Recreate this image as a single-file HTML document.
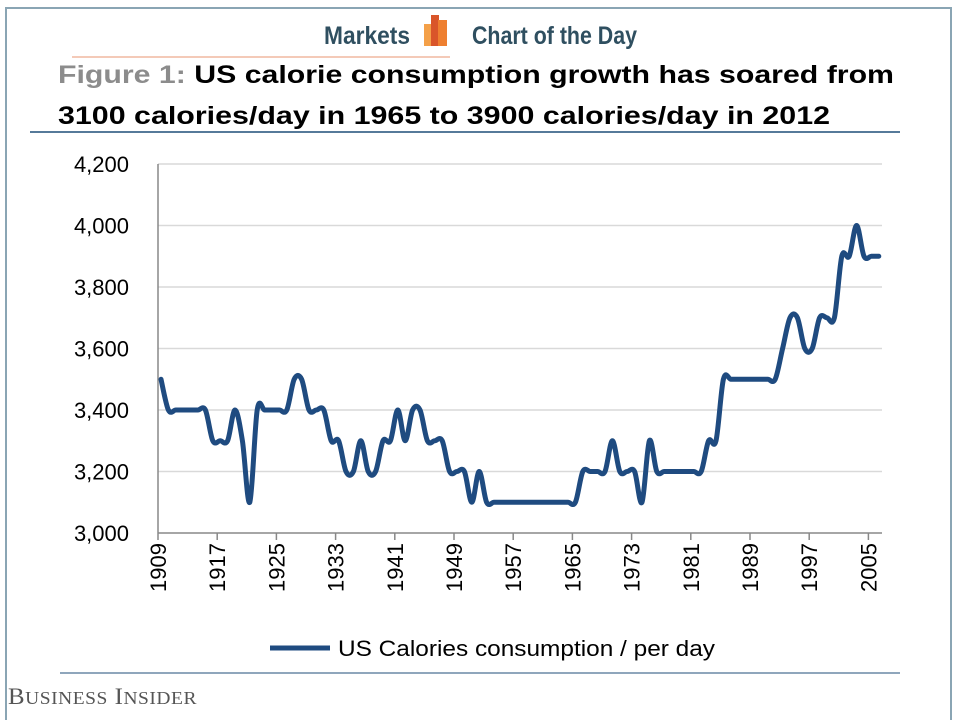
<!DOCTYPE html>
<html><head><meta charset="utf-8"><style>
body{margin:0;background:#fff;width:960px;height:720px;overflow:hidden;font-family:"Liberation Sans",sans-serif}
</style></head><body>
<svg width="960" height="720" xmlns="http://www.w3.org/2000/svg">
<rect x="6" y="8" width="945" height="720" fill="none" stroke="#8aa5b4" stroke-width="2"/>
<text x="410" y="44" text-anchor="end" font-family="Liberation Sans Narrow, Liberation Sans, sans-serif" font-weight="bold" font-size="25" fill="#2f4f60" textLength="86" lengthAdjust="spacingAndGlyphs">Markets</text>
<g>
<rect x="424" y="24" width="10" height="22" fill="#f4a048"/><rect x="431" y="15" width="8" height="31" fill="#d9552a"/><rect x="438" y="20" width="9" height="26" fill="#ee7f30"/></g>
<text x="472" y="44" font-family="Liberation Sans Narrow, Liberation Sans, sans-serif" font-weight="bold" font-size="25" fill="#2f4f60" textLength="165" lengthAdjust="spacingAndGlyphs">Chart of the Day</text>
<line x1="72" y1="57" x2="450" y2="57" stroke="#f0b8a0" stroke-width="1.5"/>
<text x="58" y="83" font-size="25" font-weight="bold" fill="#000" textLength="836" lengthAdjust="spacingAndGlyphs"><tspan fill="#8c8c8c">Figure 1: </tspan>US calorie consumption growth has soared from</text>
<text x="58" y="124" font-size="25" font-weight="bold" fill="#000" textLength="772" lengthAdjust="spacingAndGlyphs">3100 calories/day in 1965 to 3900 calories/day in 2012</text>
<line x1="30" y1="132" x2="900" y2="132" stroke="#1f4e79" stroke-width="1.5"/>
<g id="plot"></g>
<line x1="60" y1="673" x2="900" y2="673" stroke="#1f4e79" stroke-width="1"/>
<text x="8" y="704" font-family="Liberation Serif, serif" font-size="23" fill="#555" letter-spacing="0.5" textLength="189" lengthAdjust="spacingAndGlyphs">B<tspan font-size="18">USINESS</tspan> I<tspan font-size="18">NSIDER</tspan></text>
</svg>
<script>
const years = [];
for (let y = 1909; y <= 2006; y++) years.push(y);
const calories = [3500,3400,3400,3400,3400,3400,3400,3300,3300,3300,3400,3300,3100,3400,3400,3400,3400,3400,3500,3500,3400,3400,3400,3300,3300,3200,3200,3300,3200,3200,3300,3300,3400,3300,3400,3400,3300,3300,3300,3200,3200,3200,3100,3200,3100,3100,3100,3100,3100,3100,3100,3100,3100,3100,3100,3100,3100,3200,3200,3200,3200,3300,3200,3200,3200,3100,3300,3200,3200,3200,3200,3200,3200,3200,3300,3300,3500,3500,3500,3500,3500,3500,3500,3500,3600,3700,3700,3600,3600,3700,3700,3700,3900,3900,4000,3900,3900,3900];
const yTicks = [3000,3200,3400,3600,3800,4000,4200];
const xTickYears = [1909,1917,1925,1933,1941,1949,1957,1965,1973,1981,1989,1997,2005];

const NS = "http://www.w3.org/2000/svg";
const g = document.getElementById('plot');
const X0 = 158, X1 = 882, Y0 = 533, Y1 = 164;
const step = 7.4;
function xPos(i){ return 161 + step * i; }
function xTick(i){ return X0 + step * i; }
function yPos(v){ return Y0 - (v - 3000) / 1200 * (Y0 - Y1); }
function mk(tag, attrs){ const e = document.createElementNS(NS, tag); for (const k in attrs) e.setAttribute(k, attrs[k]); g.appendChild(e); return e; }

yTicks.forEach(v => {
  if (v > 3000) {
    const l = mk('line', {x1:X0, x2:X1, y1:yPos(v), y2:yPos(v), stroke:'#d9d9d9', 'stroke-width':1.5});
    
    
  }
  const t = mk('text', {x:129, y:yPos(v)+8, 'text-anchor':'end', 'font-size':22, fill:'#000'});
  t.textContent = v.toLocaleString('en-US');
  
  
});
const ya = mk('line', {x1:X0, x2:X0, y1:Y1, y2:Y0, stroke:'#888', 'stroke-width':1.5});


const xa = mk('line', {x1:X0, x2:X1, y1:Y0, y2:Y0, stroke:'#888', 'stroke-width':1.5});



xTickYears.forEach(yr => {
  const i = yr - years[0];
  const x = xTick(i);
  const tk = mk('line', {x1:x, x2:x, y1:Y0, y2:Y0+7, stroke:'#888', 'stroke-width':1.5});
  
  
  const t = mk('text', {x:0, y:0, 'text-anchor':'end', 'font-size':22, fill:'#000', transform:`translate(${x+8},${Y0+10}) rotate(-90)`});
  t.textContent = yr;
  
  
});

const pts = calories.map((v, i) => [xPos(i), yPos(v)]);
let d = `M${pts[0][0]},${pts[0][1]}`;
for (let i = 0; i < pts.length - 1; i++) {
  const p0 = pts[Math.max(0, i-1)], p1 = pts[i], p2 = pts[i+1], p3 = pts[Math.min(pts.length-1, i+2)];
  const k = 1/6;
  const c1x = p1[0] + (p2[0]-p0[0])*k, c1y = p1[1] + (p2[1]-p0[1])*k;
  const c2x = p2[0] - (p3[0]-p1[0])*k, c2y = p2[1] - (p3[1]-p1[1])*k;
  d += ` C${c1x},${c1y} ${c2x},${c2y} ${p2[0]},${p2[1]}`;
}
const line = mk('path', {d:d, fill:'none', stroke:'#1f4b80', 'stroke-width':5, 'stroke-linejoin':'round', 'stroke-linecap':'round'});



const ll = mk('line', {x1:270, x2:330, y1:648, y2:648, stroke:'#1f4b80', 'stroke-width':5});


const lt = mk('text', {x:338, y:656, 'font-size':22, fill:'#000', textLength:377, lengthAdjust:'spacingAndGlyphs'});
lt.textContent = 'US Calories consumption / per day';


</script>
</body></html>
